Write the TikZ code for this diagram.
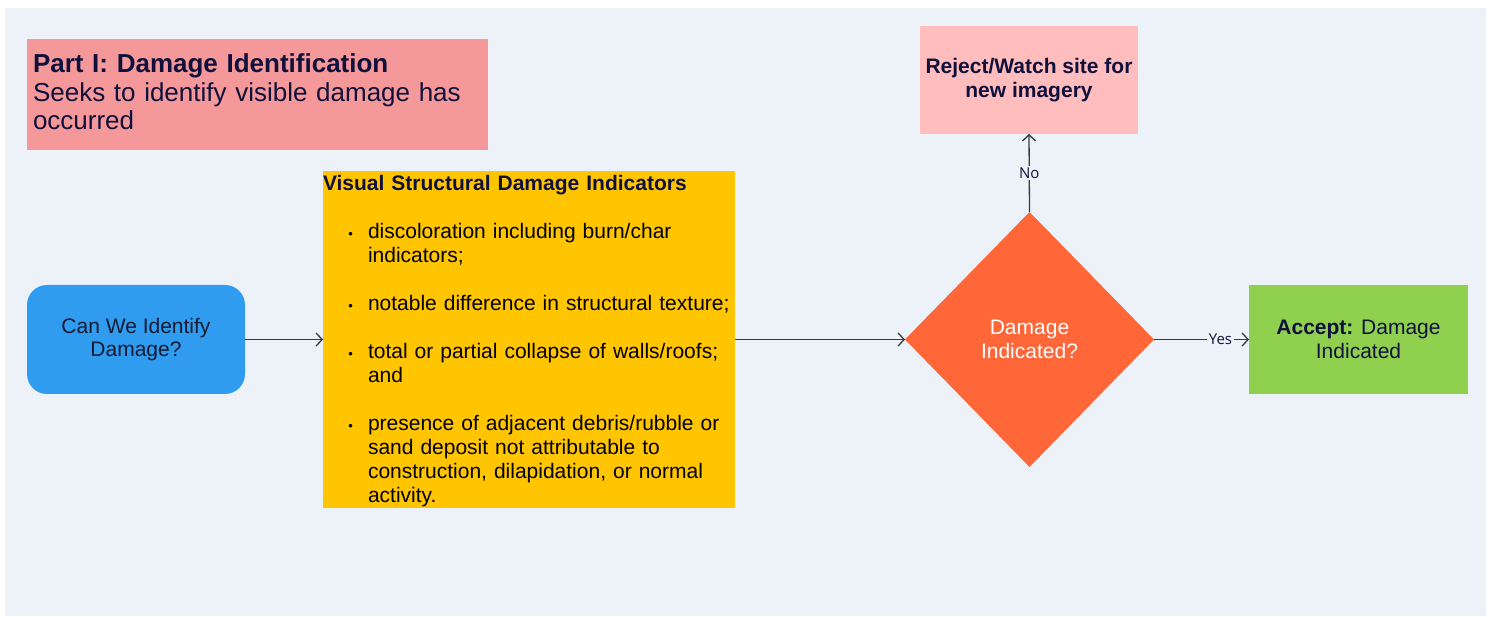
\documentclass[tikz,border=0pt]{standalone}
\usepackage{fontspec}
\setmainfont{Liberation Sans}
\newfontfamily\lblfont{Open Sans}
\usetikzlibrary{shapes.geometric,arrows.meta}
\definecolor{bgc}{HTML}{EDF2F8}
\definecolor{partc}{HTML}{F49899}
\definecolor{navy}{HTML}{10103C}
\definecolor{bluec}{HTML}{2F9CF0}
\definecolor{yellc}{HTML}{FFC500}
\definecolor{orangec}{HTML}{FF6739}
\definecolor{pinkc}{HTML}{FFBDBD}
\definecolor{greenc}{HTML}{8FD14F}
\definecolor{linec}{HTML}{3A3A3A}
\definecolor{darktext}{HTML}{151A30}
\begin{document}
\begin{tikzpicture}[x=1pt,y=-1pt,
  shapebox/.style={inner sep=0pt, outer sep=0pt, draw=none},
  txt/.style={inner sep=0pt, outer sep=0pt, align=left},
  normal/.style={font=\fontsize{21}{23.5}\selectfont},
  conn/.style={draw=linec, line width=1.3pt, -{Straight Barb[length=6pt,width=13pt,line width=1.3pt]}},
  lbl/.style={fill=bgc, text=navy, inner sep=2pt, font=\lblfont\fontsize{15}{15}\selectfont}
]
\useasboundingbox (0,0) rectangle (1489,617);
\fill[bgc] (5,8) rectangle (1486,616);

% Part I box
\node[shapebox, fill=partc, minimum width=461pt, minimum height=111pt] (part) at (257.5,94.5) {};
\node[txt, anchor=base west, text width=450pt, text=navy, font=\fontsize{26}{28.5}\selectfont] (parttxt) at (33,73)
  {\textbf{Part I: Damage Identification}\\Seeks to identify visible damage has\\occurred};

% Blue start box
\node[shapebox, fill=bluec, rounded corners=20pt, minimum width=218pt, minimum height=109pt,
  normal, text=darktext, align=center] (start) at (136,339.5) {Can We Identify\\Damage?};

% Yellow indicators box
\node[shapebox, fill=yellc, minimum width=412pt, minimum height=337pt] (ind) at (529,339.5) {};
\node[txt, anchor=base west, text width=400pt, text=navy, font=\bfseries\fontsize{21}{24}\selectfont] (indtitle) at (323,191)
  {Visual Structural Damage Indicators};
\newcommand{\bul}{\leavevmode\llap{\fontsize{13}{13}\selectfont\textbullet\hspace{15pt}}}
\node[txt, anchor=base west, text width=375pt, text=black, font=\fontsize{21}{24}\selectfont] (indlist) at (368,239)
  {\bul discoloration including burn/char\\indicators;\\[24pt]
   \bul notable difference in structural texture;\\[24pt]
   \bul total or partial collapse of walls/roofs;\\and\\[24pt]
   \bul presence of adjacent debris/rubble or\\sand deposit not attributable to\\construction, dilapidation, or normal\\activity.};

% Decision diamond
\node[shapebox, diamond, fill=orangec, minimum width=249pt, minimum height=255pt,
  normal, text=white, align=center] (dec) at (1029.5,339.5) {Damage\\Indicated?};

% Reject box
\node[shapebox, fill=pinkc, minimum width=218pt, minimum height=108pt,
  text=navy, align=center, font=\bfseries\fontsize{21}{23.5}\selectfont] (reject) at (1029,80) {Reject/Watch site for\\new imagery};

% Accept box
\node[shapebox, fill=greenc, minimum width=219pt, minimum height=109pt,
  normal, text=navy, align=center] (accept) at (1358.5,339.5) {\textbf{Accept:} Damage\\Indicated};

% Connectors
\draw[conn] (start.east) -- (ind.west);
\draw[conn] (ind.east) -- (dec.west);
\draw[conn] (dec.north) -- node[lbl, pos=0.5] {No} (reject.south);
\draw[conn] (dec.east) -- node[lbl, pos=0.7] {Yes} (accept.west);
\end{tikzpicture}
\end{document}
